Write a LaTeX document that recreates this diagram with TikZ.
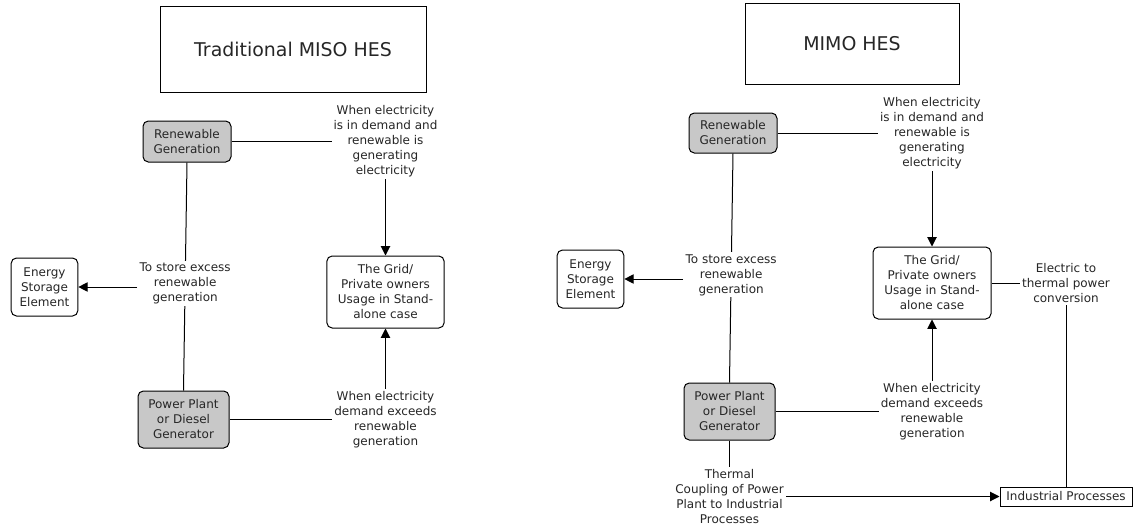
\documentclass[tikz,border=0pt]{standalone}
\usepackage{fontspec}
\setmainfont{DejaVu Sans}
\usetikzlibrary{arrows.meta}
\definecolor{boxgray}{HTML}{C8C8C8}

\begin{document}
\begin{tikzpicture}[x=0.75pt,y=-0.75pt]\tikzstyle{every node}=[font=\fontsize{9}{11.25}\selectfont, text=black!85]
\tikzstyle{concept}=[draw, rounded corners=4pt, align=center, line width=0.75pt, inner sep=1pt]
\tikzstyle{source}=[concept, fill=boxgray]
\tikzstyle{heading}=[draw, line width=0.75pt, font=\fontsize{14.2}{17}\selectfont]
\tikzstyle{lbl}=[fill=white, align=center, inner sep=1.5pt]
\tikzstyle{link}=[line width=0.75pt]
\tikzstyle{arr}=[link, -{Triangle[length=7pt, width=7pt]}]
\useasboundingbox (0,0) rectangle (1133,529);
% miso
  \node[heading, minimum width=199.5pt, minimum height=64.5pt] (miso) at (293,49) {Traditional MISO HES};
% renewable
  \node[source, minimum width=66pt, minimum height=30.75pt] (ren) at (187,141.5)%
{%
  Renewable\\Generation
};
% storage
  \node[concept, minimum width=50pt, minimum height=43.5pt] (ess) at (44.5,287)%
{%
  Energy\\Storage\\Element
};
% grid
  \node[concept, minimum width=88pt, minimum height=54pt] (grid) at (385.5,292)%
{%
  The Grid/\\Private owners\\Usage in Stand-\\alone case
};
% plant
  \node[source, minimum width=68.25pt, minimum height=42.75pt] (plant) at (183.5,419.5)%
{%
  Power Plant\\or Diesel\\Generator
};
% mimo
  \node[heading, minimum width=160.5pt, minimum height=60.75pt] (mimo) at (852,43.5) {MIMO HES};
% renewable (mimo)
  \node[source, minimum width=66pt, minimum height=30pt] (ren2) at (733,133)%
{%
  Renewable\\Generation
};
% storage (mimo)
  \node[concept, minimum width=50pt, minimum height=43.5pt] (ess2) at (590.5,279)%
{%
  Energy\\Storage\\Element
};
% grid (mimo)
  \node[concept, minimum width=88.5pt, minimum height=54pt] (grid2) at (932,283)%
{%
  The Grid/\\Private owners\\Usage in Stand-\\alone case
};
% plant (mimo)
  \node[source, minimum width=68.25pt, minimum height=42.75pt] (plant2) at (729.5,411.5)%
{%
  Power Plant\\or Diesel\\Generator
};
% industry
  \node[draw, line width=0.75pt, inner sep=1pt, minimum width=99pt, minimum height=14.25pt] (ind) at (1066,496.5) {Industrial Processes};
%%%%%%%%%%%%%%%%
\draw[arr] (ren.east) -| node[lbl, midway] (dem) {When electricity\\is in demand and\\renewable is\\generating\\electricity} (grid.north);
\draw[link] (ren.south) -- node[lbl, pos=0.53] (sto) {To store excess\\renewable\\generation} (plant.north);
\draw[arr] (sto.west |- ess.east) -- (ess.east);
\draw[arr] (plant.east) -| node[lbl, midway] (exc) {When electricity\\demand exceeds\\renewable\\generation} (grid.south);
%%%%%%%%%%%%%%%%
\draw[arr] (ren2.east) -| node[lbl, midway] (dem2) {When electricity\\is in demand and\\renewable is\\generating\\electricity} (grid2.north);
\draw[link] (ren2.south) -- node[lbl, pos=0.53] (sto2) {To store excess\\renewable\\generation} (plant2.north);
\draw[arr] (sto2.west |- ess2.east) -- (ess2.east);
\draw[arr] (plant2.east) -| node[lbl, midway] (exc2) {When electricity\\demand exceeds\\renewable\\generation} (grid2.south);
\draw[link] (grid2.east) -| node[lbl, midway] (conv) {Electric to\\thermal power\\conversion} (ind.north);
\draw[arr] (plant2.south) |- node[lbl, midway] (therm) {Thermal\\Coupling of Power\\Plant to Industrial\\Processes} (ind.west);
\end{tikzpicture}
\end{document}
